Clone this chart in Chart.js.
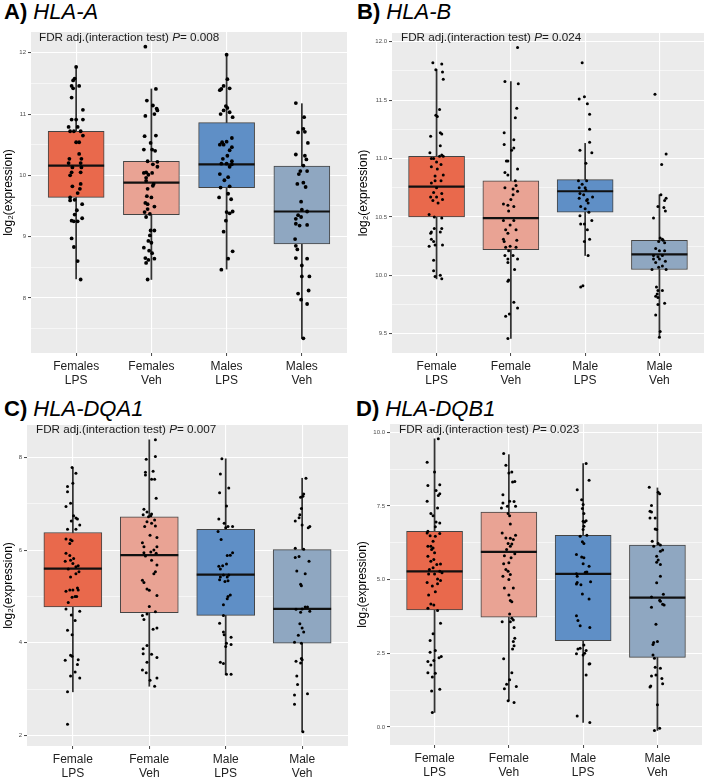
<!DOCTYPE html>
<html>
<head>
<meta charset="utf-8">
<script src="https://cdn.jsdelivr.net/npm/chart.js@4.4.0/dist/chart.umd.min.js"></script>
<style>
  body { margin: 0; background: #fff; width: 709px; height: 778px; position: relative; overflow: hidden;
         font-family: "Liberation Sans", Arial, sans-serif; }
  canvas { position: absolute; }
  .ttl { position: absolute; font-size: 22px; line-height: 22px; color: #000; white-space: nowrap; }
  .ttl b { font-weight: bold; }
  .fdr { position: absolute; font-size: 11.7px; line-height: 12px; color: #1a1a1a; white-space: nowrap; z-index: 2; }
</style>
</head>
<body>
<div class="ttl" style="left:4px;top:1px"><b>A)</b> <i>HLA-A</i></div>
<div class="ttl" style="left:357px;top:1px"><b>B)</b> <i>HLA-B</i></div>
<div class="ttl" style="left:4px;top:398px"><b>C)</b> <i>HLA-DQA1</i></div>
<div class="ttl" style="left:356px;top:398px"><b>D)</b> <i>HLA-DQB1</i></div>

<div class="fdr" style="left:39px;top:31px">FDR adj.(interaction test) <i>P</i>= 0.008</div>
<div class="fdr" style="left:401px;top:31px">FDR adj.(interaction test) <i>P</i>= 0.024</div>
<div class="fdr" style="left:36px;top:423px">FDR adj.(interaction test) <i>P</i>= 0.007</div>
<div class="fdr" style="left:399px;top:423px">FDR adj.(interaction test) <i>P</i>= 0.023</div>

<canvas id="cA" width="350" height="361" style="left:0;top:32px"></canvas>
<canvas id="cB" width="353" height="360" style="left:354px;top:33px"></canvas>
<canvas id="cC" width="351" height="361" style="left:0;top:425px"></canvas>
<canvas id="cD" width="351" height="361" style="left:354px;top:424px"></canvas>

<script>
//--- categories
const labelsA = [['Females', 'LPS'], ['Females', 'Veh'], ['Males', 'LPS'], ['Males', 'Veh']];
const labelsB = [['Female', 'LPS'], ['Female', 'Veh'], ['Male', 'LPS'], ['Male', 'Veh']];

//--- box stats per group: Female LPS, Female Veh, Male LPS, Male Veh
const q1A = [9.64, 9.36, 9.80, 8.88];
const medA = [10.16, 9.88, 10.18, 9.41];
const q3A = [10.72, 10.23, 10.86, 10.15];
const loA = [8.31, 8.30, 8.47, 7.34];
const hiA = [11.77, 11.41, 11.97, 11.17];

const q1B = [10.50, 10.22, 10.54, 10.05];
const medB = [10.76, 10.49, 10.72, 10.18];
const q3B = [11.02, 10.81, 10.82, 10.30];
const loB = [9.97, 9.46, 10.17, 9.47];
const hiB = [11.76, 11.66, 11.13, 10.69];

const q1C = [4.77, 4.65, 4.59, 3.99];
const medC = [5.60, 5.89, 5.47, 4.73];
const q3C = [6.38, 6.72, 6.45, 6.01];
const loC = [2.94, 3.06, 3.32, 2.08];
const hiC = [7.78, 8.38, 7.97, 7.55];

const q1D = [3.97, 3.72, 2.93, 2.36];
const medD = [5.28, 5.94, 5.19, 4.39];
const q3D = [6.64, 7.29, 6.50, 6.17];
const loD = [0.49, 0.89, 0.15, -0.12];
const hiD = [9.78, 9.24, 8.94, 8.11];

//--- axis ticks and limits
const ticksA = [8, 9, 10, 11, 12];
const ticksB = [9.5, 10.0, 10.5, 11.0, 11.5, 12.0];
const ticksC = [2, 4, 6, 8];
const ticksD = [0, 2.5, 5, 7.5, 10];
const rangeA = [7.10, 12.34];
const rangeB = [9.335, 12.075];
const rangeC = [1.77, 8.70];
const rangeD = [-0.615, 10.28];

//--- jittered samples [jitter, value]
const ptsA = [
  [[0,11.77],[-0.02,11.58],[-0.04,11.55],[-0.06,11.46],[0.04,11.46],[-0.04,11.42],[-0.06,11.27],[0.09,11.07],[-0.06,10.91],[0,10.91],[0.09,10.91],[-0.1,10.79],[0.02,10.79],[-0.08,10.72],[-0.03,10.72],[0.06,10.72],[0.09,10.65],[0,10.54],[0.04,10.54],[0.04,10.35],[-0.09,10.27],[0.07,10.27],[-0.1,10.2],[0.06,10.2],[-0.05,10.13],[0.07,10.13],[-0.06,10.05],[0.06,10.05],[-0.08,10.0],[-0.05,9.82],[0.06,9.86],[0.05,9.78],[-0.08,9.64],[0.02,9.71],[-0.08,9.59],[-0.02,9.6],[0.08,9.53],[0.01,9.43],[-0.02,9.36],[-0.06,9.26],[-0.03,9.25],[0.02,9.25],[0.08,9.3],[-0.06,8.97],[-0.03,8.83],[0.02,8.6],[0.06,8.3]],
  [[-0.08,12.1],[0.06,11.41],[-0.06,11.22],[0.02,11.14],[0.07,11.09],[0.08,11.06],[-0.08,10.97],[0.04,11.0],[-0.09,10.64],[0.06,10.65],[-0.01,10.53],[-0.1,10.42],[0.01,10.42],[0.05,10.4],[-0.05,10.23],[0.08,10.22],[0.02,10.18],[0.08,10.14],[-0.07,10.05],[0.01,10.04],[-0.1,10.04],[-0.04,10.01],[-0.07,9.96],[-0.07,9.91],[0.03,9.86],[0.02,9.83],[-0.05,9.78],[-0.06,9.66],[0,9.64],[-0.08,9.55],[-0.05,9.53],[0.04,9.49],[-0.05,9.45],[-0.09,9.4],[-0.02,9.37],[-0.07,9.32],[-0.01,9.1],[0.04,9.1],[-0.02,9.02],[-0.04,8.93],[0,8.9],[-0.1,8.82],[-0.03,8.77],[0.01,8.73],[-0.08,8.65],[0.04,8.64],[-0.04,8.62],[-0.07,8.57],[-0.05,8.3]],
  [[0,11.97],[0.01,11.57],[0.04,11.42],[-0.07,11.41],[-0.09,11.39],[-0.04,11.46],[-0.01,11.13],[0.01,11.1],[0.04,11.03],[-0.04,11.06],[-0.08,11.0],[0.08,10.95],[0.07,10.61],[-0.06,10.54],[0,10.55],[-0.04,10.5],[-0.09,10.5],[0.07,10.46],[0.04,10.41],[0.01,10.32],[-0.05,10.27],[0.07,10.23],[-0.07,10.19],[0,10.19],[0.07,10.18],[0.04,10.14],[-0.09,10.02],[0.02,9.97],[-0.03,9.92],[0.02,9.7],[0.04,9.82],[-0.08,9.8],[-0.1,9.64],[0.06,9.61],[0,9.4],[0.04,9.38],[0.08,9.41],[-0.01,9.26],[-0.04,9.08],[0.08,8.76],[0.02,8.64],[-0.07,8.46]],
  [[-0.08,11.18],[0.03,10.95],[-0.05,10.7],[0.02,10.76],[0.04,10.71],[0.08,10.53],[-0.08,10.34],[0.04,10.32],[0.06,10.26],[0.02,10.16],[0.07,10.07],[-0.02,10.07],[-0.04,10.02],[0.02,9.88],[-0.06,9.86],[0.05,9.81],[-0.01,9.57],[0,9.44],[0.07,9.41],[-0.05,9.35],[-0.08,9.29],[-0.01,9.32],[-0.08,9.21],[-0.03,9.18],[0.07,9.19],[-0.09,8.96],[-0.08,8.85],[-0.06,8.79],[-0.08,8.65],[0.07,8.64],[0,8.53],[0,8.35],[0.1,8.35],[0.09,8.12],[-0.05,8.07],[-0.01,7.97],[0.07,7.9],[0.02,7.34]]
];
const ptsB = [
  [[-0.05,11.82],[0.07,11.81],[-0.01,11.76],[0.08,11.74],[0.09,11.68],[0.04,11.42],[-0.01,11.37],[0.01,11.36],[0.05,11.22],[0.07,11.21],[-0.08,11.19],[0.05,11.11],[-0.09,11.05],[-0.07,11.0],[-0.04,11.0],[0.07,11.03],[0.04,11.02],[0.09,11.02],[0,10.97],[0.06,10.95],[-0.07,10.93],[0.01,10.91],[0.09,10.86],[-0.02,10.85],[-0.02,10.81],[0.06,10.81],[-0.07,10.79],[0,10.75],[-0.04,10.71],[0.07,10.7],[-0.08,10.67],[0,10.67],[-0.05,10.64],[0.02,10.62],[0.08,10.65],[-0.1,10.52],[-0.03,10.5],[0.07,10.49],[-0.03,10.4],[0.07,10.4],[-0.08,10.36],[-0.07,10.37],[0.05,10.37],[-0.07,10.31],[-0.04,10.29],[-0.1,10.25],[-0.02,10.26],[0.08,10.26],[-0.04,10.13],[-0.04,10.04],[-0.02,9.99],[0.05,10.0],[0.07,9.97]],
  [[0.09,11.95],[-0.08,11.66],[0.1,11.64],[0.08,11.43],[0.06,11.35],[-0.09,11.22],[0.04,11.16],[-0.09,11.12],[0.04,11.09],[0.01,11.07],[-0.04,10.98],[-0.06,10.98],[0.09,10.91],[-0.08,10.88],[-0.04,10.86],[0.06,10.81],[-0.08,10.75],[0.03,10.74],[0.07,10.77],[0.09,10.72],[0.03,10.69],[0,10.65],[-0.1,10.61],[-0.04,10.6],[0.04,10.59],[-0.03,10.55],[-0.1,10.47],[0.04,10.47],[-0.01,10.43],[-0.07,10.39],[0.07,10.39],[-0.04,10.36],[-0.1,10.31],[0.08,10.3],[-0.09,10.29],[-0.01,10.25],[-0.07,10.24],[0.07,10.24],[-0.03,10.21],[-0.08,10.17],[0.03,10.17],[0.09,10.14],[-0.04,10.14],[-0.04,10.11],[0.05,10.05],[-0.03,9.96],[-0.04,9.95],[0.04,9.77],[0.09,9.72],[-0.02,9.67],[-0.07,9.65],[-0.04,9.46]],
  [[-0.04,11.82],[-0.01,11.53],[-0.08,11.51],[0.03,11.47],[0.06,11.38],[0.06,11.25],[0.06,11.14],[-0.07,11.07],[0.09,11.05],[0.01,10.96],[-0.09,10.81],[0.02,10.81],[-0.04,10.78],[-0.08,10.75],[0,10.75],[0.01,10.73],[-0.07,10.7],[-0.02,10.69],[0.03,10.65],[0.1,10.67],[-0.08,10.66],[0.02,10.64],[0.04,10.62],[-0.06,10.59],[0,10.57],[0.05,10.54],[-0.07,10.51],[0.09,10.47],[-0.06,10.44],[-0.01,10.44],[0.03,10.39],[0.06,10.31],[-0.01,10.29],[0.04,10.17],[-0.06,9.9],[-0.03,9.91]],
  [[-0.06,11.55],[0.09,11.04],[0.03,10.95],[0.02,10.69],[0.09,10.66],[0.07,10.64],[-0.02,10.59],[0.06,10.58],[0.08,10.55],[-0.08,10.49],[0.01,10.32],[0.04,10.31],[-0.01,10.29],[0.07,10.28],[0.05,10.3],[-0.05,10.23],[0,10.21],[0.07,10.21],[-0.08,10.17],[0.04,10.17],[-0.02,10.16],[0,10.14],[-0.08,10.14],[-0.05,10.11],[0.08,10.12],[0.04,10.08],[-0.01,10.07],[0.09,10.05],[-0.1,10.05],[-0.04,9.9],[-0.02,9.87],[0.04,9.87],[-0.03,9.84],[-0.05,9.82],[-0.02,9.81],[-0.02,9.75],[0.07,9.76],[-0.05,9.66],[0.01,9.52],[0,9.47]]
];
const ptsC = [
  [[-0.01,7.78],[0.04,7.66],[0,7.44],[-0.07,7.37],[-0.07,7.26],[-0.09,6.94],[-0.03,7.01],[0.01,6.74],[0.04,6.69],[0.06,6.67],[-0.02,6.63],[0.09,6.54],[0.04,6.45],[-0.07,6.45],[-0.09,6.24],[-0.03,6.22],[-0.01,6.2],[-0.04,6.14],[-0.09,5.93],[-0.04,5.88],[0.01,5.82],[-0.03,5.78],[-0.1,5.76],[0,5.71],[0.04,5.64],[0.07,5.66],[-0.06,5.59],[0.08,5.53],[0.04,5.49],[-0.03,5.42],[-0.09,5.11],[-0.04,5.14],[0,5.14],[0.06,5.18],[0.07,5.14],[-0.01,4.98],[0.03,5.0],[0.05,5.0],[-0.06,4.87],[-0.09,4.73],[0.09,4.68],[-0.02,4.6],[0.03,4.48],[-0.07,4.27],[-0.01,4.17],[-0.03,3.73],[-0.01,3.71],[0.07,3.63],[-0.1,3.62],[0.06,3.53],[0.03,3.37],[-0.03,3.28],[0.09,3.24],[-0.07,2.94],[-0.07,2.24]],
  [[0.08,8.38],[0.08,8.02],[-0.04,7.96],[0.05,7.7],[-0.05,7.68],[-0.05,7.62],[0.07,7.53],[0.03,7.53],[0.09,7.12],[-0.07,6.88],[-0.03,6.82],[0.03,6.78],[-0.08,6.76],[-0.01,6.72],[0.02,6.74],[0.07,6.65],[-0.03,6.61],[0.03,6.58],[0.08,6.52],[-0.06,6.51],[0.01,6.32],[0.1,6.27],[-0.09,6.16],[-0.07,6.07],[0.1,6.07],[0.06,6.0],[-0.07,5.94],[0.02,5.96],[0.09,5.93],[-0.05,5.87],[0.03,5.78],[0.1,5.68],[0.08,5.53],[0.06,5.49],[-0.09,5.35],[-0.07,5.3],[-0.03,5.16],[0,5.13],[0.1,5.02],[0,4.78],[0.08,4.67],[-0.03,4.62],[-0.09,4.59],[-0.07,4.5],[0.1,4.32],[0.05,4.29],[-0.03,3.94],[-0.08,3.87],[-0.08,3.76],[0.03,3.75],[0.1,3.68],[-0.03,3.58],[-0.09,3.41],[-0.04,3.35],[0.1,3.24],[0.01,3.19],[0.07,3.06]],
  [[-0.05,7.97],[-0.07,7.64],[0.04,7.34],[-0.08,7.24],[0.01,6.95],[-0.09,6.67],[-0.02,6.58],[0.03,6.51],[0.09,6.51],[0,6.48],[-0.1,6.4],[-0.06,6.23],[0.09,5.94],[0.06,5.89],[0.02,5.88],[-0.04,5.66],[-0.09,5.65],[0.01,5.7],[-0.07,5.59],[-0.03,5.46],[0.04,5.46],[-0.07,5.42],[0.02,5.42],[-0.01,5.32],[0.03,5.34],[-0.08,5.36],[0.06,5.03],[0.03,5.0],[0.02,4.95],[-0.03,4.82],[-0.03,4.59],[-0.08,4.42],[-0.03,4.23],[-0.02,4.17],[0.07,4.12],[0.01,3.99],[0.07,3.96],[0,3.92],[-0.07,3.58],[-0.03,3.55],[0.01,3.32],[0.07,3.32]],
  [[0.05,7.55],[0.01,7.16],[-0.02,7.14],[0.02,7.21],[-0.01,6.9],[-0.03,6.76],[-0.04,6.7],[-0.09,6.63],[0,6.54],[0.1,6.51],[0.08,6.48],[-0.09,6.04],[0.02,6.02],[-0.04,5.86],[-0.09,5.84],[0.09,5.76],[-0.07,5.55],[0.04,5.49],[-0.02,5.26],[-0.01,5.23],[0.04,4.77],[-0.08,4.72],[0,4.73],[0.07,4.77],[0.1,4.68],[-0.02,4.66],[-0.03,4.41],[0,4.32],[0.02,4.23],[-0.05,4.16],[-0.1,4.01],[-0.01,3.99],[-0.08,3.6],[-0.01,3.66],[0,3.63],[-0.02,3.56],[-0.07,3.28],[-0.06,3.1],[-0.1,2.87],[0.07,2.9],[-0.1,2.67],[0.01,2.08]]
];
const ptsD = [
  [[0.05,9.78],[-0.1,8.98],[0,8.65],[-0.09,8.19],[0.07,8.22],[0.02,8.02],[0.07,7.91],[0.05,7.85],[-0.1,7.66],[0.04,7.43],[-0.05,7.24],[-0.02,7.17],[0.07,6.92],[0.02,6.95],[0.01,6.79],[-0.09,6.64],[-0.1,6.58],[0.07,6.56],[-0.06,6.49],[0.01,6.47],[-0.02,6.3],[-0.05,6.13],[-0.09,6.13],[-0.02,6.07],[0,5.91],[-0.04,6.02],[-0.09,5.79],[-0.01,5.68],[-0.05,5.62],[0.08,5.53],[0.03,5.51],[-0.02,5.4],[-0.07,5.34],[0.07,5.28],[0.1,5.23],[0,5.19],[-0.08,5.19],[0.04,5.02],[0.08,4.97],[-0.1,4.9],[0.04,4.86],[-0.03,4.78],[0.01,4.59],[-0.08,4.48],[-0.05,4.17],[-0.01,4.14],[-0.09,4.03],[0.04,3.95],[0.08,3.52],[-0.02,3.16],[-0.06,2.93],[0.01,2.59],[-0.06,2.53],[-0.01,2.25],[-0.09,2.22],[0.06,2.35],[0.09,2.39],[-0.05,2.1],[-0.09,1.84],[0.01,1.82],[-0.03,1.69],[0.07,1.28],[-0.04,1.22],[-0.03,0.49]],
  [[-0.07,9.28],[-0.04,8.88],[0,8.62],[0.04,8.65],[0.08,8.33],[0.05,8.31],[-0.08,7.88],[-0.08,7.6],[0.01,7.66],[0.07,7.65],[-0.02,7.49],[0.09,7.49],[-0.1,7.43],[-0.01,7.24],[0.01,7.17],[0.02,6.89],[-0.09,6.58],[0.09,6.5],[-0.04,6.41],[0.02,6.4],[0.06,6.36],[-0.01,6.22],[0.04,6.21],[0.02,6.13],[-0.03,6.02],[0.08,5.88],[-0.06,5.81],[0.03,5.74],[-0.07,5.54],[0,5.57],[-0.04,5.34],[-0.01,5.28],[0.02,5.17],[-0.08,5.11],[0,5.0],[-0.06,4.71],[0.06,4.71],[0,4.48],[0.02,4.29],[0.04,4.25],[0.01,3.83],[0.04,3.69],[-0.09,3.57],[0.02,3.57],[0.06,3.63],[0.07,3.37],[0.08,3.01],[0.06,2.9],[0.07,2.75],[0.05,2.64],[-0.07,2.31],[0.04,1.84],[0.01,1.6],[-0.03,1.45],[0.1,1.37],[-0.06,1.29],[-0.01,0.89],[0.07,0.83]],
  [[0.04,8.94],[0.08,8.37],[-0.08,8.05],[-0.02,7.71],[0,7.55],[-0.01,7.41],[0.01,7.24],[0.04,7.0],[0,6.98],[0.02,6.95],[0.01,6.81],[0,6.7],[-0.04,6.47],[0.05,6.5],[-0.01,6.28],[0.01,6.22],[-0.09,5.85],[-0.02,5.77],[0.01,5.74],[0,5.54],[0.08,5.45],[0.05,5.26],[0.03,5.25],[-0.09,5.2],[-0.08,5.11],[-0.09,4.85],[-0.03,4.82],[-0.08,4.9],[0.1,4.93],[-0.01,4.51],[0.08,4.34],[-0.09,3.77],[-0.07,3.61],[-0.04,3.43],[0.09,3.37],[0.01,2.78],[-0.04,2.67],[0.04,2.59],[-0.07,2.64],[0.02,2.5],[-0.09,2.48],[0,2.44],[0.09,2.14],[0.08,2.13],[0.04,1.76],[-0.08,0.37],[0.09,0.15]],
  [[-0.11,8.13],[0.01,7.96],[0.03,7.91],[-0.08,7.51],[-0.1,7.32],[-0.08,7.29],[-0.03,7.09],[-0.1,7.09],[-0.03,6.72],[-0.01,6.7],[-0.07,6.3],[0.01,6.22],[-0.05,6.13],[0.04,6.17],[-0.01,5.79],[0.07,6.0],[0.04,5.96],[0.01,5.66],[-0.01,5.59],[0.04,5.51],[0.04,5.11],[-0.01,4.89],[-0.08,4.41],[0.08,4.5],[0.03,4.3],[0.04,4.26],[0.07,4.16],[0.09,4.14],[-0.08,4.06],[-0.02,3.48],[0,2.9],[-0.05,2.86],[-0.06,2.8],[-0.06,2.44],[-0.04,2.33],[-0.03,2.02],[0.04,1.99],[-0.08,1.73],[-0.02,1.76],[0.06,1.64],[0.07,1.46],[-0.09,1.39],[-0.1,1.35],[0,0.75],[-0.04,-0.12],[0.03,-0.05]]
];

//--- styling
const FONT = '"Liberation Sans", Arial, sans-serif';
const boxColors = ['#E9694C', '#E9A394', '#5F8FC6', '#8FA7C1'];
Chart.defaults.font.family = FONT;

// grey panel behind grid
var panelBg = {
    id: 'panelBg',
    beforeDraw: function (chart) {
        var a = chart.chartArea, c = chart.ctx;
        c.save();
        c.fillStyle = '#EBEBEB';
        c.fillRect(a.left, a.top, a.right - a.left, a.bottom - a.top);
        c.restore();
    }
};

function panel(id, o) {
    var xs = [1, 2, 3, 4];
    var step = o.ticks[1] - o.ticks[0];
    var minors = [o.ticks[0] - step / 2].concat(o.ticks.map(t => t + step / 2))
        .filter(v => v > o.range[0] && v < o.range[1]);
    var allTicks = o.ticks.concat(minors).sort((a, b) => a - b);
    var isMajor = v => o.ticks.indexOf(v) >= 0;

    var dots = [];
    o.pts.forEach(function (g, i) {
        g.forEach(function (p) { dots.push({ x: xs[i] + p[0], y: p[1] }); });
    });

    new Chart(document.getElementById(id), {
        type: 'bar',
        data: {
            datasets: [
                { type: 'scatter', data: dots, pointRadius: o.dot, pointBackgroundColor: '#000',
                  pointBorderWidth: 0, order: 0 },
                { type: 'scatter', data: xs.map((x, i) => ({ x: x, y: o.med[i] })), pointStyle: 'line',
                  pointRadius: o.boxW / 2, pointBorderColor: '#111', pointBorderWidth: 2.2, order: 1 },
                { type: 'bar', data: xs.map((x, i) => ({ x: x, y: [o.q1[i], o.q3[i]] })),
                  backgroundColor: boxColors, borderColor: '#444', borderWidth: 1, borderSkipped: false,
                  grouped: false, barThickness: o.boxW, maxBarThickness: o.boxW,
                  barPercentage: 1, categoryPercentage: 1, order: 2 },
                { type: 'bar', data: xs.map((x, i) => ({ x: x, y: [o.lo[i], o.hi[i]] })),
                  backgroundColor: '#333', borderWidth: 0, grouped: false,
                  barThickness: 1.1, maxBarThickness: 1.1, barPercentage: 1, categoryPercentage: 1, order: 3 }
            ]
        },
        options: {
            responsive: false,
            animation: false,
            events: [],
            layout: { autoPadding: false, padding: { top: 0, right: 3, left: 0, bottom: 0 } },
            plugins: { legend: { display: false }, tooltip: { enabled: false } },
            scales: {
                x: {
                    type: 'linear', min: 0.4, max: 4.6, offset: false,
                    afterBuildTicks: s => { s.ticks = xs.map(v => ({ value: v })); },
                    afterFit: s => { s.height = 40; s.paddingLeft = 0; s.paddingRight = 0; },
                    ticks: { autoSkip: false, maxRotation: 0, padding: 3, color: '#222',
                             font: { size: 12 }, callback: v => o.labels[v - 1] },
                    grid: { offset: false, color: '#fff', lineWidth: 1.1, tickLength: 3, tickColor: '#444', tickWidth: 1 },
                    border: { display: false }
                },
                y: {
                    type: 'linear', min: o.range[0], max: o.range[1],
                    afterBuildTicks: s => { s.ticks = allTicks.map(v => ({ value: v })); },
                    afterFit: s => { s.width = o.axisW; s.paddingTop = 0; s.paddingBottom = 0; },
                    ticks: { autoSkip: false, padding: 2, color: '#4d4d4d', font: { size: 6 },
                             callback: v => isMajor(v) ? v.toFixed(o.dec) : '' },
                    grid: { color: '#fff',
                            lineWidth: c => isMajor(c.tick.value) ? 1.1 : 0.55,
                            tickLength: 3, tickWidth: 1,
                            tickColor: c => isMajor(c.tick.value) ? '#444' : 'rgba(0,0,0,0)' },
                    border: { display: false },
                    title: { display: true, text: 'log₂(expression)', color: '#000',
                             font: { size: 12 }, padding: { top: o.titlePad, bottom: 0 } }
                }
            }
        },
        plugins: [panelBg]
    });
}

panel('cA', { labels: labelsA, q1: q1A, med: medA, q3: q3A, lo: loA, hi: hiA, pts: ptsA,
              ticks: ticksA, range: rangeA, dec: 0, axisW: 31, titlePad: 1, boxW: 56, dot: 1.9 });
panel('cB', { labels: labelsB, q1: q1B, med: medB, q3: q3B, lo: loB, hi: hiB, pts: ptsB,
              ticks: ticksB, range: rangeB, dec: 1, axisW: 38, titlePad: 2, boxW: 56, dot: 1.5 });
panel('cC', { labels: labelsB, q1: q1C, med: medC, q3: q3C, lo: loC, hi: hiC, pts: ptsC,
              ticks: ticksC, range: rangeC, dec: 0, axisW: 27, titlePad: 1, boxW: 58, dot: 1.5 });
panel('cD', { labels: labelsB, q1: q1D, med: medD, q3: q3D, lo: loD, hi: hiD, pts: ptsD,
              ticks: ticksD, range: rangeD, dec: 1, axisW: 36, titlePad: 1, boxW: 56, dot: 1.5 });
</script>
</body>
</html>
